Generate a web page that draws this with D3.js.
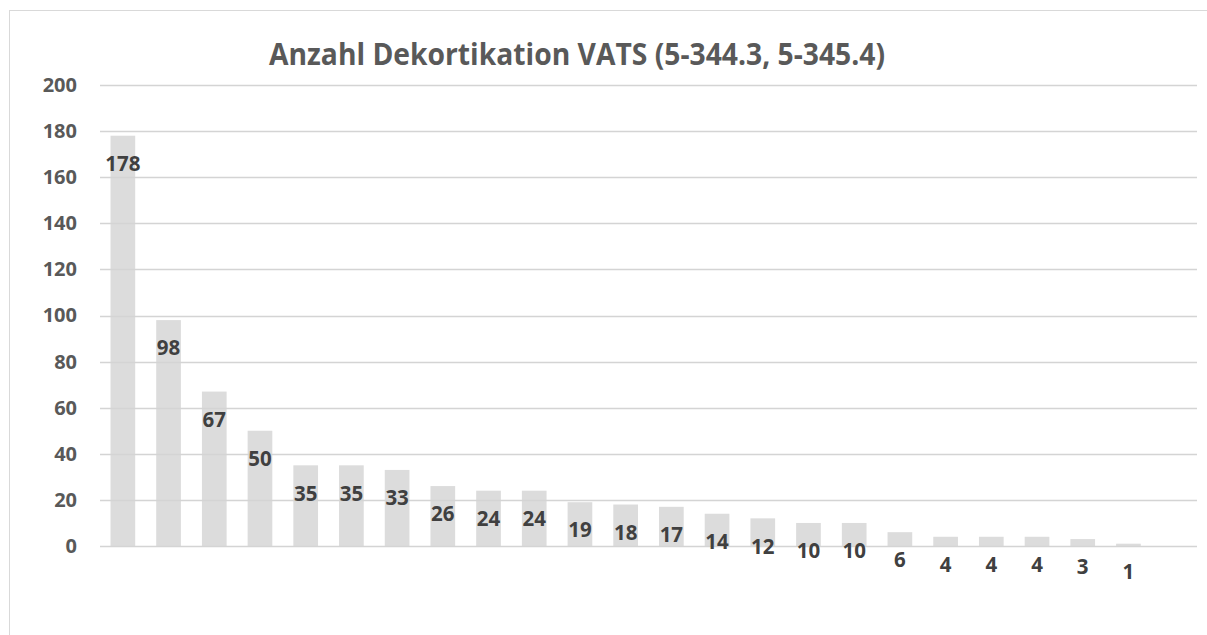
<!DOCTYPE html>
<html>
<head>
<meta charset="utf-8">
<script src="https://cdn.jsdelivr.net/npm/d3@7"></script>
<style>
  body { margin: 0; background: #fff; }
  text { font-family: "Open Sans", sans-serif; }
</style>
</head>
<body>
<div id="chart"></div>
<script>
var title = "Anzahl Dekortikation VATS (5-344.3, 5-345.4)";
var values = [178, 98, 67, 50, 35, 35, 33, 26, 24, 24, 19, 18, 17, 14, 12, 10, 10, 6, 4, 4, 4, 3, 1];
// 24 slots on the axis, the last one is empty
var slots = d3.range(24);
var yTicks = [0, 20, 40, 60, 80, 100, 120, 140, 160, 180, 200];

var draw_chart = function() {
    var W = 1207, H = 635;
    var plotLeft = 100, plotRight = 1197, plotTop = 85, plotBottom = 546;

    var svg = d3.select("#chart")
        .append("svg")
        .attr("width", W)
        .attr("height", H);

    // chart frame, cut off at right and bottom
    svg.append("rect")
        .attr("x", 9.5).attr("y", 10.5)
        .attr("width", 1400).attr("height", 800)
        .attr("fill", "none")
        .attr("stroke", "#d9d9d9");

    var x = d3.scaleBand()
        .domain(slots)
        .range([plotLeft, plotRight])
        .paddingInner(0.46)
        .paddingOuter(0.23);

    var y = d3.scaleLinear()
        .domain([0, 200])
        .range([plotBottom, plotTop]);

    // bars
    svg.append("g").selectAll("rect")
        .data(values)
        .enter()
        .append("rect")
        .attr("x", function(d, i) { return x(i); })
        .attr("y", function(d) { return y(d); })
        .attr("width", x.bandwidth())
        .attr("height", function(d) { return y(0) - y(d); })
        .attr("fill", "#dcdcdc");

    // gridlines (they show faintly across the bars)
    svg.append("g").selectAll("line")
        .data(yTicks)
        .enter()
        .append("line")
        .attr("x1", plotLeft).attr("x2", plotRight)
        .attr("y1", function(d) { return Math.round(y(d)) + 0.5; })
        .attr("y2", function(d) { return Math.round(y(d)) + 0.5; })
        .attr("stroke", "#d4d4d4")
        .attr("stroke-width", 1.3);

    // y axis labels
    var yAxis = d3.axisLeft(y).tickValues(yTicks).tickSize(0).tickPadding(23);
    var ga = svg.append("g")
        .attr("transform", "translate(" + plotLeft + ",0)")
        .call(yAxis);
    ga.select(".domain").remove();
    ga.selectAll("text")
        .attr("font-family", "Open Sans")
        .attr("font-weight", "bold")
        .attr("font-size", "20px")
        .attr("fill", "#595959");

    // data labels
    svg.append("g").selectAll("text")
        .data(values)
        .enter()
        .append("text")
        .attr("x", function(d, i) { return x(i) + x.bandwidth() / 2; })
        .attr("y", function(d) { return y(d) + 28; })
        .attr("dy", "0.35em")
        .attr("text-anchor", "middle")
        .attr("font-weight", "bold")
        .attr("font-size", "20.5px")
        .attr("fill", "#404040")
        .text(function(d) { return d; });

    // title
    var t = svg.append("text")
        .attr("x", 577)
        .attr("y", 65)
        .attr("text-anchor", "middle")
        .attr("font-weight", "bold")
        .attr("font-size", "30px")
        .attr("fill", "#595959")
        .text(title);
    var tw = t.node().getComputedTextLength();
    if (tw > 616) {
        t.attr("textLength", 616).attr("lengthAdjust", "spacingAndGlyphs");
    }
}

draw_chart();
</script>
</body>
</html>
